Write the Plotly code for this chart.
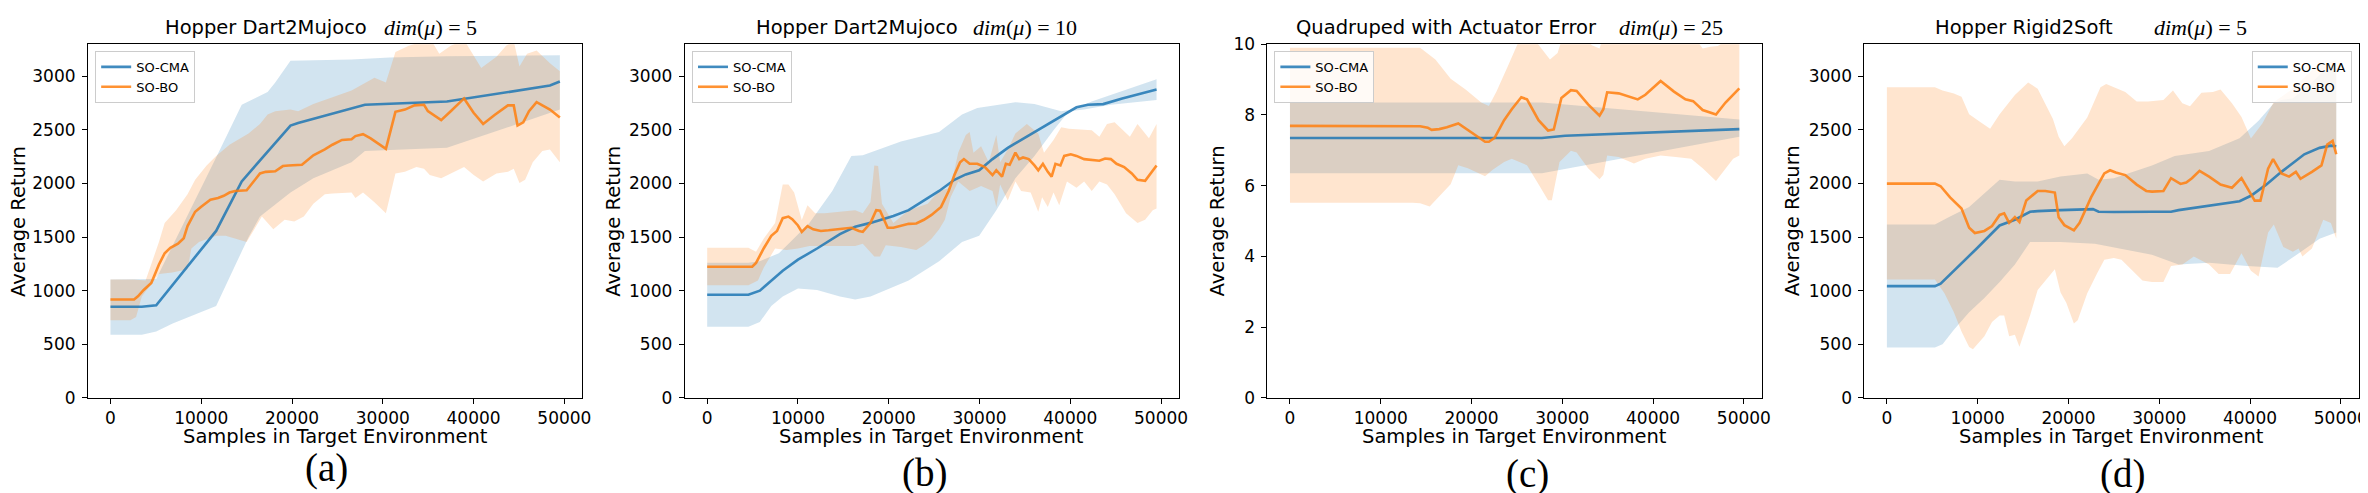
import plotly.graph_objects as go

W, H = 2368, 493

# ---------------- Panel (a): Hopper Dart2Mujoco dim=5 ----------------
A_CMA_X = [0, 3450, 5040, 11640, 14460, 19830, 20670, 28030, 37060, 48410, 49500]
A_CMA_MEAN = [850, 850, 865, 1558, 2020, 2541, 2565, 2735, 2765, 2914, 2952]
A_CMA_HI_X = [0, 5040, 11640, 14460, 17310, 18150, 19830, 26550, 30750, 37060, 49500]
A_CMA_HI = [1105, 1110, 2243, 2735, 2854, 2943, 3146, 3158, 3176, 3188, 3197]
A_CMA_LO_X = [0, 3450, 5040, 6850, 11640, 15200, 16470, 19830, 22350, 26550, 28030, 37060, 49500]
A_CMA_LO = [590, 590, 620, 694, 858, 1500, 1692, 1916, 2050, 2199, 2303, 2333, 2690]

A_BO_X = [0, 2600, 3030, 3660, 4500, 5340, 5970, 6600, 7440, 8070, 8490, 9330, 9960, 11010, 11850,
          12480, 13110, 13740, 15000, 15630, 16470, 17100, 18150, 18990, 19620, 21090, 22350, 23610,
          24450, 25500, 26560, 26980, 27820, 28660, 29710, 30340, 31390, 32440, 33490, 34540, 34960,
          36430, 37480, 38950, 40000, 41050, 42310, 43780, 44420, 44840, 45470, 46100, 46940, 48410, 49500]
A_BO_MEAN = [918, 918, 948, 1007, 1073, 1245, 1350, 1400, 1439, 1490, 1603, 1737, 1782, 1850, 1865,
             1886, 1916, 1930, 1937, 2005, 2094, 2109, 2115, 2163, 2169, 2175, 2264, 2318,
             2362, 2407, 2413, 2443, 2461, 2422, 2356, 2324, 2669, 2690, 2729, 2735, 2675,
             2592, 2675, 2794, 2660, 2556, 2639, 2729, 2729, 2541, 2571, 2675, 2759, 2690, 2616]
A_BO_HI_X = [0, 2600, 3870, 5340, 5970, 7230, 8490, 9330, 10590, 11640, 13110, 14370, 15210, 16470,
             17310, 18150, 19830, 20670, 22350, 26560, 27820, 29080, 30340, 31390, 32860, 34540, 35380,
             36220, 37480, 38950, 40840, 42520, 43580, 44420, 45050, 45890, 46940, 48410, 49500]
A_BO_HI = [1105, 1105, 1096, 1454, 1632, 1752, 1901, 2035, 2169, 2258, 2362, 2422, 2467, 2556,
           2645, 2675, 2690, 2675, 2741, 2869, 2928, 2988, 2943, 3226, 3285, 3330, 3330,
           3211, 3285, 3340, 3077, 3182, 3285, 3330, 3092, 3211, 3241, 3122, 3048]
A_BO_LO_X = [0, 2190, 2820, 3450, 5340, 6810, 8490, 8910, 9750, 11640, 12690, 13950, 15000, 16680,
             17940, 19190, 20250, 21300, 22350, 23620, 24460, 26560, 26980, 27820, 29080, 30340, 31390,
             32440, 33700, 34540, 35170, 36430, 37480, 38950, 40010, 41050, 42520, 43790, 44420, 45050,
             45680, 46520, 47570, 48410, 49500]
A_BO_LO = [724, 724, 754, 947, 1156, 1170, 1200, 1394, 1454, 1513, 1513, 1484, 1454, 1692,
           1573, 1662, 1647, 1692, 1811, 1901, 1907, 1916, 1865, 1916, 1826, 1722, 2094,
           2109, 2154, 2139, 2079, 2050, 2094, 2154, 2079, 2020, 2094, 2109, 2139, 2005,
           2035, 2199, 2303, 2318, 2199]

# ---------------- Panel (b): Hopper Dart2Mujoco dim=10 ----------------
B_CMA_X = [0, 4540, 5800, 7060, 8320, 10000, 12100, 14620, 16300, 17990, 20510, 22190, 23870, 25550,
           27230, 28490, 29960, 31430, 33110, 35210, 37310, 39000, 40680, 41940, 43620, 45720, 47820, 49500]
B_CMA_MEAN = [962, 962, 1001, 1096, 1186, 1290, 1394, 1528, 1597, 1633, 1698, 1752, 1841, 1931,
              2035, 2085, 2124, 2228, 2333, 2437, 2547, 2630, 2711, 2735, 2741, 2794, 2839, 2878]
B_CMA_HI_X = [0, 4540, 5800, 7900, 9160, 11260, 13780, 15880, 17140, 21340, 25540, 28070, 29750,
              33950, 36050, 38990, 40250, 42350, 49500]
B_CMA_HI = [1260, 1260, 1275, 1350, 1454, 1633, 1931, 2258, 2264, 2392, 2482, 2645, 2705,
            2759, 2741, 2675, 2690, 2765, 2973]
B_CMA_LO_X = [0, 4540, 5800, 7060, 8320, 10000, 12100, 14620, 16300, 17990, 20090, 22190, 25550,
              28070, 29960, 31850, 33950, 36050, 38150, 39830, 41510, 44460, 49500]
B_CMA_LO = [664, 664, 709, 858, 947, 1022, 1007, 947, 918, 947, 1022, 1096, 1275,
            1454, 1513, 1752, 2050, 2258, 2496, 2675, 2690, 2735, 2780]

B_BO_X = [0, 4960, 5380, 6220, 7060, 7690, 8320, 8950, 9370, 10000, 10420, 11050, 11680, 12520, 13360,
          14200, 15040, 15880, 16720, 17140, 17990, 18620, 19040, 19880, 20510, 21350, 22190, 23030,
          23870, 24710, 25760, 26600, 27230, 27860, 28280, 28910, 29750, 30590, 31430, 31850, 32480,
          32900, 33320, 33950, 34370, 34790, 35420, 36050, 36470, 36980, 37520, 37940, 38360, 38910,
          39330, 40050, 40680, 41520, 42360, 43200, 43830, 44460, 45090, 45930, 46770, 47400, 48240, 49500]
B_BO_MEAN = [1224, 1224, 1260, 1394, 1513, 1558, 1677, 1692, 1668, 1609, 1549, 1603, 1573, 1558, 1564,
             1573, 1585, 1588, 1558, 1549, 1633, 1752, 1746, 1588, 1588, 1609, 1624, 1627,
             1662, 1707, 1782, 1931, 2079, 2198, 2228, 2184, 2184, 2154, 2079, 2124, 2065,
             2184, 2175, 2288, 2228, 2243, 2228, 2169, 2124, 2184, 2109, 2065, 2184, 2169,
             2258, 2273, 2258, 2228, 2222, 2213, 2234, 2228, 2184, 2154, 2094, 2035, 2026, 2169]
B_BO_HI_X = [0, 4540, 5380, 6220, 7480, 8320, 8950, 9580, 10420, 11050, 11890, 12940, 14620, 16300,
             17140, 17990, 18410, 18830, 19250, 20510, 22190, 24290, 25550, 26810, 27650, 28490, 28910,
             29330, 30170, 31010, 31850, 32270, 33110, 33950, 35210, 36470, 37100, 38150, 39000, 39840,
             42360, 43200, 44040, 44880, 46560, 47400, 48660, 49500]
B_BO_HI = [1400, 1400, 1364, 1484, 1633, 1990, 1990, 1916, 1660, 1797, 1722, 1722, 1737, 1752,
           1722, 1827, 2169, 2163, 1812, 1633, 1752, 1812, 1931, 1961, 2288, 2452, 2482,
           2288, 2348, 2198, 2452, 2198, 2318, 2467, 2556, 2467, 2288, 2407, 2526, 2512,
           2497, 2437, 2556, 2571, 2437, 2556, 2422, 2556]
B_BO_LO_X = [0, 4540, 5590, 6220, 7480, 8740, 10000, 11260, 12940, 14620, 16300, 17140, 18410, 19040,
             19670, 21350, 23030, 23870, 24710, 25550, 26180, 26810, 27650, 28910, 30170, 31430, 31850,
             32270, 33110, 33950, 34580, 35630, 36470, 36890, 37520, 38150, 38780, 39630, 40680, 41520,
             42360, 43200, 44040, 44880, 46140, 47400, 48240, 49080, 49500]
B_BO_LO = [1052, 1052, 1096, 1215, 1394, 1379, 1394, 1418, 1415, 1418, 1418, 1439, 1320, 1320,
           1424, 1409, 1379, 1424, 1484, 1573, 1662, 1871, 2020, 1931, 1976, 1931, 1782,
           1990, 1841, 2020, 1931, 1916, 1737, 1871, 1782, 1916, 1797, 2020, 1961, 2020,
           1931, 2020, 1990, 1901, 1722, 1633, 1662, 1752, 1767]

# ---------------- Panel (c): Quadruped with Actuator Error dim=25 ----------------
C_CMA_X = [0, 27750, 30320, 38730, 49500]
C_CMA_MEAN = [7.35, 7.35, 7.41, 7.50, 7.60]
C_CMA_HI_X = [0, 27750, 49500]
C_CMA_HI = [8.35, 8.35, 7.87]
C_CMA_LO_X = [0, 27750, 49500]
C_CMA_LO = [6.35, 6.35, 7.38]

C_BO_X = [0, 13500, 14340, 15180, 15600, 16440, 17280, 18540, 20230, 21490, 21910, 22540, 23590,
          24430, 25480, 26110, 27380, 28430, 29060, 29900, 30950, 31580, 32840, 34100, 34520, 34940,
          36210, 37890, 38310, 39150, 40830, 42300, 43560, 44410, 45460, 46930, 47980, 49500]
C_BO_MEAN = [7.69, 7.69, 7.68, 7.64, 7.58, 7.60, 7.65, 7.76, 7.47, 7.24, 7.24, 7.35, 7.85,
             8.16, 8.50, 8.44, 7.85, 7.56, 7.59, 8.48, 8.70, 8.68, 8.30, 7.98, 8.16, 8.64,
             8.61, 8.48, 8.44, 8.57, 8.96, 8.66, 8.44, 8.39, 8.14, 8.01, 8.35, 8.75]
C_BO_HI_X = [0, 14340, 16020, 17700, 19380, 21070, 21910, 22750, 24010, 25060, 26110, 27380, 28640,
             29480, 29900, 31580, 33260, 34100, 34520, 40000, 44830, 45460, 46300, 47140, 47980, 49500]
C_BO_HI = [9.90, 9.90, 9.57, 9.02, 8.71, 8.35, 8.25, 8.66, 9.38, 10.0, 10.4, 10.0, 9.57,
           9.75, 10.1, 10.4, 9.97, 9.88, 10.2, 10.5, 10.1, 9.88, 9.93, 9.95, 10.1, 10.3]
C_BO_LO_X = [0, 13500, 14340, 15390, 16020, 17700, 18540, 19600, 21490, 22330, 23590, 24430, 26110,
             27380, 28430, 28850, 29690, 30950, 31580, 32840, 34100, 34520, 34940, 36210, 37890, 39150,
             40830, 42510, 44200, 45460, 46930, 47980, 48820, 49500]
C_BO_LO = [5.52, 5.52, 5.50, 5.41, 5.59, 6.04, 6.58, 6.49, 6.27, 6.45, 6.67, 6.76, 6.58,
           6.04, 5.59, 5.59, 6.67, 6.99, 6.94, 6.49, 6.18, 6.31, 6.85, 6.81, 6.63, 6.76,
           6.85, 6.81, 6.76, 6.49, 6.13, 6.49, 6.76, 6.85]

# ---------------- Panel (d): Hopper Rigid2Soft dim=5 ----------------
D_CMA_X = [0, 5290, 5920, 7380, 9900, 12420, 14100, 15770, 16610, 19130, 21650, 22700, 23320, 25000,
           29200, 31300, 32130, 35490, 38850, 40100, 41780, 43460, 45980, 47660, 48910, 49500]
D_CMA_MEAN = [1043, 1043, 1067, 1186, 1394, 1609, 1662, 1737, 1743, 1752, 1761, 1761, 1737, 1734,
              1737, 1737, 1752, 1797, 1835, 1886, 1990, 2109, 2273, 2333, 2354, 2348]
D_CMA_HI_X = [0, 5290, 6960, 9060, 12420, 14100, 16610, 19130, 22070, 23320, 25000, 27100, 29200,
              31710, 35490, 38850, 40940, 42620, 43460, 44720, 46820, 48070, 49500]
D_CMA_HI = [1618, 1618, 1692, 1782, 2035, 2020, 2020, 2065, 2094, 2035, 2050, 2109, 2169,
            2258, 2303, 2422, 2586, 2750, 2780, 2794, 2943, 3048, 3077]
D_CMA_LO_X = [0, 5290, 6130, 7380, 9060, 10740, 12420, 14100, 15770, 19130, 22910, 29200, 32130,
              35490, 39690, 43040, 45140, 47660, 49500]
D_CMA_LO = [471, 471, 501, 635, 799, 932, 1081, 1245, 1454, 1454, 1439, 1335, 1245,
            1260, 1230, 1215, 1335, 1484, 1543]

D_BO_X = [0, 5290, 5920, 6960, 8220, 9060, 9690, 10740, 11580, 12420, 12920, 13470, 14100, 14600,
          15350, 16610, 17450, 18500, 18920, 19550, 20600, 21230, 22490, 23950, 24580, 25210, 26260,
          27520, 28570, 29200, 30460, 31300, 32340, 32970, 33600, 34440, 35490, 36750, 38010, 39060,
          40520, 41150, 41990, 42540, 43460, 44300, 45050, 45560, 46820, 47870, 48500, 49100, 49500]
D_BO_MEAN = [1999, 1999, 1975, 1871, 1767, 1588, 1538, 1558, 1603, 1707, 1722, 1633, 1686, 1641,
             1841, 1931, 1931, 1916, 1686, 1612, 1564, 1633, 1871, 2094, 2124, 2103, 2079,
             1990, 1931, 1925, 1931, 2050, 1996, 2010, 2050, 2118, 2065, 1990, 1961, 2050,
             1841, 1841, 2139, 2228, 2094, 2065, 2109, 2044, 2109, 2169, 2363, 2398, 2273]
D_BO_HI_X = [0, 5290, 6130, 7380, 8220, 9060, 10320, 11370, 12420, 14100, 15560, 16610, 18290, 18920,
             19550, 20390, 22070, 23530, 24160, 26260, 27520, 28780, 30460, 31510, 32550, 33390, 34650,
             35910, 36750, 38010, 39060, 40100, 41360, 42620, 44720, 47240, 49500]
D_BO_HI = [2899, 2899, 2869, 2840, 2810, 2646, 2571, 2511, 2646, 2825, 2943, 2884, 2601, 2437,
           2348, 2422, 2616, 2899, 2929, 2854, 2765, 2765, 2780, 2869, 2750, 2720, 2848,
           2854, 2878, 2750, 2620, 2420, 2560, 2760, 2884, 3092, 3151]
D_BO_LO_X = [0, 5290, 6340, 7380, 8220, 9060, 9480, 10740, 11580, 12420, 12920, 13470, 14100, 14600,
             15770, 16610, 17450, 18500, 19130, 19760, 20600, 21020, 22070, 23120, 23950, 25000, 25840,
             27100, 28150, 29200, 30460, 31300, 32550, 33810, 35490, 36540, 37800, 39060, 40100, 40940,
             41990, 42620, 43670, 44720, 45350, 45770, 46820, 48070, 48910, 49500]
D_BO_LO = [1105, 1105, 977, 799, 620, 474, 453, 575, 709, 769, 769, 575, 590, 477,
           769, 1007, 1096, 1200, 983, 888, 694, 724, 977, 1156, 1290, 1305, 1290,
           1186, 1096, 1081, 1081, 1230, 1245, 1320, 1245, 1156, 1156, 1350, 1186, 1132,
           1543, 1618, 1409, 1364, 1394, 1320, 1394, 1662, 1633, 1484]

X_TICKS = [0, 10000, 20000, 30000, 40000, 50000]
Y_TICKS_RET = [0, 500, 1000, 1500, 2000, 2500, 3000]
Y_TICKS_C = [0, 2, 4, 6, 8, 10]

TITLES_SANS = ["Hopper Dart2Mujoco", "Hopper Dart2Mujoco", "Quadruped with Actuator Error", "Hopper Rigid2Soft"]
TITLES_DIM = ["5", "10", "25", "5"]
SUBLABELS = ["(a)", "(b)", "(c)", "(d)"]
SERIES_NAMES = ["SO-CMA", "SO-BO"]
X_TITLE = "Samples in Target Environment"
Y_TITLE = "Average Return"

# ---------------- layout geometry (pixels) ----------------
PANEL_LEFT = [80.3, 679.3, 1264.3, 1863.5]
PANEL_W = 496.2
PLOT_TOP, PLOT_BOT = 27.3, 396.0
SANS_END = [362, 956, 1597, 2115]
MATH_START = [375, 967, 1615, 2152]
YTITLE_X = [10, 607, 1214, 1791]
SUB_X = [320, 920, 1525, 2123]
SUB_Y = [469, 474, 475, 475]
LEG_X = [87.5, 686.6, 1271.2, None]

BLUE_LINE = "rgba(31,119,180,0.85)"
ORANGE_LINE = "rgba(255,127,14,0.85)"
BLUE_FILL = "rgba(31,119,180,0.2)"
ORANGE_FILL = "rgba(255,127,14,0.2)"
FONT = "DejaVu Sans"
SERIF = "Liberation Serif"


def fx(p):
    return p / W


def fy(p):
    return (H - p) / H


panels = [
    dict(cma=(A_CMA_X, A_CMA_MEAN, A_CMA_HI_X, A_CMA_HI, A_CMA_LO_X, A_CMA_LO),
         bo=(A_BO_X, A_BO_MEAN, A_BO_HI_X, A_BO_HI, A_BO_LO_X, A_BO_LO), yr=[0, 3300], yt=Y_TICKS_RET),
    dict(cma=(B_CMA_X, B_CMA_MEAN, B_CMA_HI_X, B_CMA_HI, B_CMA_LO_X, B_CMA_LO),
         bo=(B_BO_X, B_BO_MEAN, B_BO_HI_X, B_BO_HI, B_BO_LO_X, B_BO_LO), yr=[0, 3300], yt=Y_TICKS_RET),
    dict(cma=(C_CMA_X, C_CMA_MEAN, C_CMA_HI_X, C_CMA_HI, C_CMA_LO_X, C_CMA_LO),
         bo=(C_BO_X, C_BO_MEAN, C_BO_HI_X, C_BO_HI, C_BO_LO_X, C_BO_LO), yr=[0, 10], yt=Y_TICKS_C),
    dict(cma=(D_CMA_X, D_CMA_MEAN, D_CMA_HI_X, D_CMA_HI, D_CMA_LO_X, D_CMA_LO),
         bo=(D_BO_X, D_BO_MEAN, D_BO_HI_X, D_BO_HI, D_BO_LO_X, D_BO_LO), yr=[0, 3300], yt=Y_TICKS_RET),
]

fig = go.Figure()
layout = dict(width=W, height=H, autosize=False, margin=dict(l=0, r=0, t=0, b=0),
              paper_bgcolor="white", plot_bgcolor="white",
              font=dict(family=FONT, color="black", size=17))
annotations = []

xmax = 49500
xr = [-0.05 * xmax, 1.05 * xmax]

for i, p in enumerate(panels):
    sfx = "" if i == 0 else str(i + 1)
    xa, ya = "x" + sfx, "y" + sfx
    leg = "legend" + sfx
    axis_common = dict(showline=True, mirror=True, linecolor="black", linewidth=1.1,
                       ticks="outside", ticklen=5, tickwidth=1.1, tickcolor="black",
                       showgrid=False, zeroline=False, tickfont=dict(size=17, family=FONT))
    layout["xaxis" + sfx] = dict(domain=[fx(PANEL_LEFT[i]), fx(PANEL_LEFT[i] + PANEL_W)], range=xr,
                                 anchor=ya, tickvals=X_TICKS, ticktext=[str(v) for v in X_TICKS],
                                 **axis_common)
    layout["yaxis" + sfx] = dict(domain=[fy(PLOT_BOT), fy(PLOT_TOP)], range=p["yr"], anchor=xa,
                                 tickvals=p["yt"], ticktext=[str(v) for v in p["yt"]],
                                 ticklabelstandoff=3, **axis_common)

    for key, fill in (("cma", BLUE_FILL), ("bo", ORANGE_FILL)):
        _, _, hx, hi, lx, lo = p[key]
        fig.add_trace(go.Scatter(x=list(hx) + list(lx)[::-1], y=list(hi) + list(lo)[::-1],
                                 fill="toself", fillcolor=fill, mode="lines", line=dict(width=0),
                                 hoverinfo="skip", showlegend=False, xaxis=xa, yaxis=ya))
    for key, col, name in (("cma", BLUE_LINE, SERIES_NAMES[0]), ("bo", ORANGE_LINE, SERIES_NAMES[1])):
        mx, my = p[key][0], p[key][1]
        fig.add_trace(go.Scatter(x=mx, y=my, mode="lines", name=name, line=dict(color=col, width=2.6),
                                 xaxis=xa, yaxis=ya, legend=leg, showlegend=True))

    leg_common = dict(bgcolor="rgba(255,255,255,0.8)", bordercolor="#cccccc", borderwidth=1,
                      font=dict(size=13, family=FONT), yanchor="top", y=fy(34.3),
                      tracegroupgap=0, itemwidth=30)
    if LEG_X[i] is None:
        layout[leg] = dict(x=fx(PANEL_LEFT[i] + PANEL_W - 7), xanchor="right", **leg_common)
    else:
        layout[leg] = dict(x=fx(LEG_X[i]), xanchor="left", **leg_common)

    # titles
    annotations.append(dict(text=TITLES_SANS[i], xref="paper", yref="paper", x=fx(SANS_END[i]),
                            xanchor="right", y=fy(PLOT_TOP), yanchor="bottom", yshift=3,
                            showarrow=False, font=dict(size=19.5, family=FONT)))
    annotations.append(dict(text="<i>dim</i>(<i>μ</i>)\u00a0=\u00a0" + TITLES_DIM[i], xref="paper",
                            yref="paper", x=fx(MATH_START[i]), xanchor="left", y=fy(PLOT_TOP),
                            yanchor="bottom", yshift=2, showarrow=False,
                            font=dict(size=22, family=SERIF)))
    cx = PANEL_LEFT[i] + PANEL_W / 2
    annotations.append(dict(text=X_TITLE, xref="paper", yref="paper", x=fx(cx), xanchor="center",
                            y=fy(436), yanchor="middle", showarrow=False,
                            font=dict(size=19.5, family=FONT)))
    annotations.append(dict(text=Y_TITLE, xref="paper", yref="paper", x=fx(YTITLE_X[i]), xanchor="center",
                            y=fy((PLOT_TOP + PLOT_BOT) / 2), yanchor="middle", textangle=-90,
                            showarrow=False, font=dict(size=19.5, family=FONT)))
    annotations.append(dict(text=SUBLABELS[i], xref="paper", yref="paper", x=fx(SUB_X[i]), xanchor="center",
                            y=fy(SUB_Y[i]), yanchor="middle", showarrow=False,
                            font=dict(size=39, family=SERIF)))

layout["annotations"] = annotations
fig.update_layout(**layout)
fig.write_html("out.html")
